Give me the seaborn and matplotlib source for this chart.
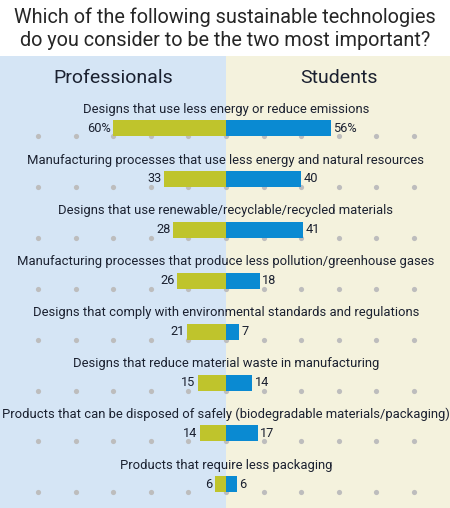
import numpy as np
import pandas as pd
import matplotlib
matplotlib.use("Agg")
import matplotlib.pyplot as plt
import seaborn as sns

categories = [
    "Designs that use less energy or reduce emissions",
    "Manufacturing processes that use less energy and natural resources",
    "Designs that use renewable/recyclable/recycled materials",
    "Manufacturing processes that produce less pollution/greenhouse gases",
    "Designs that comply with environmental standards and regulations",
    "Designs that reduce material waste in manufacturing",
    "Products that can be disposed of safely (biodegradable materials/packaging)",
    "Products that require less packaging",
]
professionals = [60, 33, 28, 26, 21, 15, 14, 6]
students = [56, 40, 41, 18, 7, 14, 17, 6]
dot_ticks = list(range(-100, 101, 20))

title = "Which of the following sustainable technologies\ndo you consider to be the two most important?"

sns.set_theme(style="white")
plt.rcParams["font.family"] = ["Roboto", "DejaVu Sans"]

GREEN = "#BFC42C"
BLUE = "#0A8AD2"
TEXT = "#1B2130"

df = pd.DataFrame({"cat": categories, "prof": [-v for v in professionals], "stud": students})

fig = plt.figure(figsize=(4.5, 5.08), dpi=100)
ax = fig.add_axes([0, 0, 1, 1])

bar_h = 16 / 50.9
sns.barplot(data=df, x="prof", y="cat", orient="h", color=GREEN, width=bar_h,
            saturation=1, linewidth=0, ax=ax, zorder=3)
sns.barplot(data=df, x="stud", y="cat", orient="h", color=BLUE, width=bar_h,
            saturation=1, linewidth=0, ax=ax, zorder=3)

# background halves
ax.axvspan(-200, 0, ymin=0, ymax=1 - 56 / 508, color="#D5E5F5", zorder=0, lw=0)
ax.axvspan(0, 200, ymin=0, ymax=1 - 56 / 508, color="#F4F2DD", zorder=0, lw=0)

# grey dots under each row
for i in range(len(categories)):
    ax.scatter(dot_ticks, [i + bar_h / 2] * len(dot_ticks), s=14, color="#BDBDBD",
               zorder=1, linewidths=0)

for i, (cat, p, s) in enumerate(zip(categories, professionals, students)):
    suffix = "%" if i == 0 else ""
    ax.text(0, i - 0.37, cat, ha="center", va="center", fontsize=9.4, color=TEXT, zorder=4)
    ax.text(-p - 1.2, i, f"{p}{suffix}", ha="right", va="center", fontsize=9.2, color=TEXT, zorder=4)
    ax.text(s + 1.2, i, f"{s}{suffix}", ha="left", va="center", fontsize=9.2, color=TEXT, zorder=4)

ax.text(-60, (78 - 128) / 50.9, "Professionals", ha="center", va="center", fontsize=14,
        color=TEXT)
ax.text(60, (78 - 128) / 50.9, "Students", ha="center", va="center", fontsize=14,
        color=TEXT)

fig.text(0.5, 1 - 29 / 508, title, ha="center", va="center", fontsize=14.3,
         color="#262626", linespacing=1.25)

ax.set_xlim(-226 / 1.88, (450 - 226) / 1.88)
ax.set_ylim((508 - 128) / 50.9, -128 / 50.9)
ax.set_axis_off()

fig.savefig("out.png", dpi=100)
